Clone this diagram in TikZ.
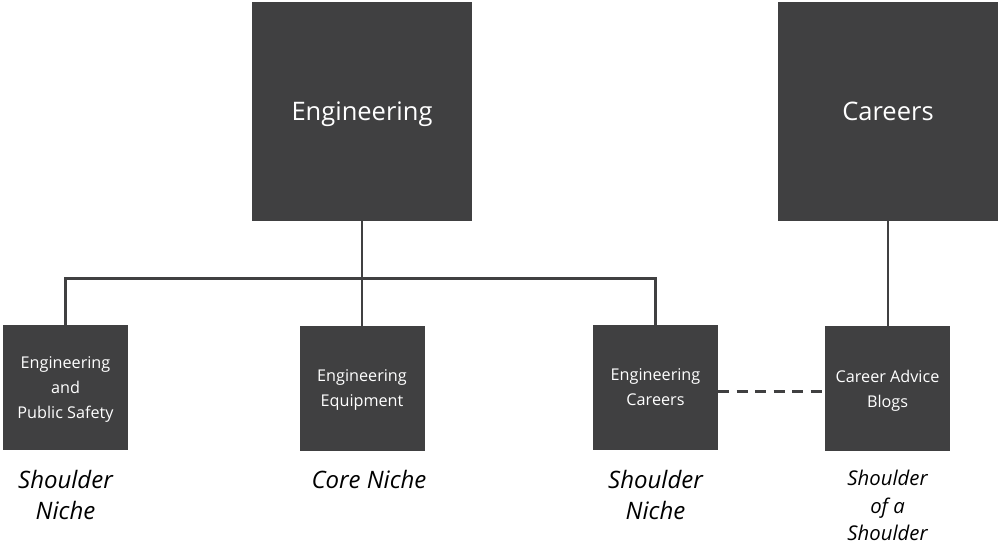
\documentclass[tikz,border=0pt]{standalone}
\usepackage{fontspec}
\setmainfont{Open Sans}
\usepackage{tikz}
\usetikzlibrary{positioning}
\definecolor{boxgray}{HTML}{404041}

\begin{document}
\begin{tikzpicture}[x=1pt,y=-1pt]
\tikzstyle{bigbox}=[fill=boxgray,text=white,minimum width=220pt,minimum height=219pt,inner sep=0pt,text depth=0pt,font=\fontsize{25.5}{30}\selectfont]
\tikzstyle{smallbox}=[fill=boxgray,text=white,minimum size=125pt,inner sep=0pt,align=center,text depth=0pt,font=\fontsize{16.2}{25}\selectfont]
\tikzstyle{nichelabel}=[align=center,font=\itshape\fontsize{24}{31}\selectfont]
\tikzstyle{link}=[line width=2.8pt,draw=boxgray]

\useasboundingbox (0,0) rectangle (1003,548);

% top level
\node[bigbox] (eng) at (362,111.5) {Engineering};
\node[bigbox] (car) at (888,111.5) {Careers};

% niches
\node[smallbox] (safety) at (65.5,387.5) {Engineering\\and\\Public Safety};
\node[smallbox] (equip) at (362,388.5) {Engineering\\Equipment};
\node[smallbox] (engcar) at (655.5,387.5) {Engineering\\Careers};
\node[smallbox] (blogs) at (887.5,388.5) {Career Advice\\Blogs};

\node[nichelabel] (l1) at (65.5,494.5) {Shoulder\\Niche};
\node[nichelabel] (l2) at (369,479) {Core Niche};
\node[nichelabel] (l3) at (655.5,494.5) {Shoulder\\Niche};
\node[nichelabel,font=\itshape\fontsize{20.3}{27.5}\selectfont] (l4) at (887.5,505.5) {Shoulder\\of a\\Shoulder};

% connectors
\draw[link] (eng.south) -- ++(0,57) coordinate (split);
\draw[link] (split) -- (equip.north);
\draw[link] (safety.north) |- (split) -| (engcar.north);
\draw[link] (car.south) -- (car.south |- blogs.north);
\draw[link,dash pattern=on 11pt off 7.5pt] ([yshift=-4pt]engcar.east) -- ([yshift=-4pt]engcar.east -| blogs.west);
\end{tikzpicture}
\end{document}
